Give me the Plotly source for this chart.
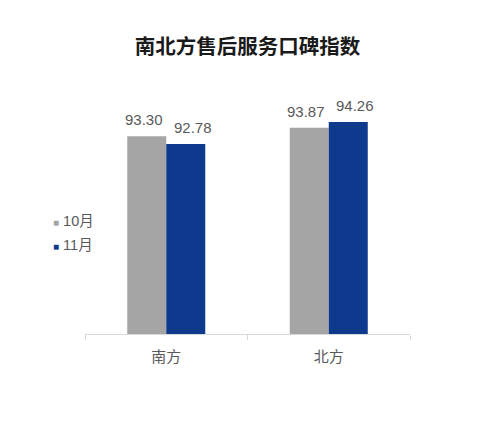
import plotly.graph_objects as go

# data
regions = ['南方', '北方']
oct_vals = [93.30, 93.87]
nov_vals = [92.78, 94.26]
series_names = ['10月', '11月']

FONT = 'Liberation Sans, Noto Sans CJK SC, sans-serif'
GRAY = '#A5A5A5'
BLUE = '#0D3A8C'
TXT = '#595959'

series = [(series_names[0], oct_vals, GRAY), (series_names[1], nov_vals, BLUE)]

fig = go.Figure()
for name, vals, col in series:
    fig.add_trace(go.Bar(x=regions, y=vals, name=name,
                         marker=dict(color=col, line=dict(width=0)), showlegend=False))

# value labels above the bars (Excel nudges them apart a bit)
bar_w = (1 - 0.52) / 2
for k, (name, vals, col) in enumerate(series):
    for i, v in enumerate(vals):
        fig.add_annotation(x=i + (k - 0.5) * bar_w, y=v, xref='x', yref='y',
                           text=f'{v:.2f}', showarrow=False, yanchor='bottom',
                           yshift=6, xshift=-3 if k == 0 else 7,
                           font=dict(size=15, color=TXT, family=FONT))

# legend drawn at the left like the source
for k, (name, vals, col) in enumerate(series):
    fig.add_annotation(x=-0.105, y=0.475 - k * 0.1, xref='paper', yref='paper',
                       xanchor='left', yanchor='middle', showarrow=False,
                       text=f'<span style="color:{col};font-size:10px">■</span> {name}',
                       font=dict(size=14.5, color=TXT, family=FONT))

fig.update_layout(
    width=500, height=430,
    margin=dict(l=77, r=98, t=88, b=104),
    paper_bgcolor='white', plot_bgcolor='white',
    barmode='group', bargap=0.52, bargroupgap=0,
    font=dict(family=FONT, color=TXT),
    title=dict(text='<b>南北方售后服务口碑指数</b>', x=0.479, xanchor='center', y=0.909, yanchor='middle',
               font=dict(size=20.5, color='#1a1a1a', family='Noto Sans CJK SC, sans-serif')),
    xaxis=dict(showline=True, linecolor='#D9D9D9', linewidth=1, ticks='outside', tickson='boundaries',
               ticklen=5, tickcolor='#D9D9D9', ticklabelstandoff=9,
               tickfont=dict(size=15, color=TXT, family='Noto Sans CJK SC, sans-serif'),
               showgrid=False),
    yaxis=dict(range=[80, 96], visible=False, showgrid=False),
)

fig.write_html('out.html')
